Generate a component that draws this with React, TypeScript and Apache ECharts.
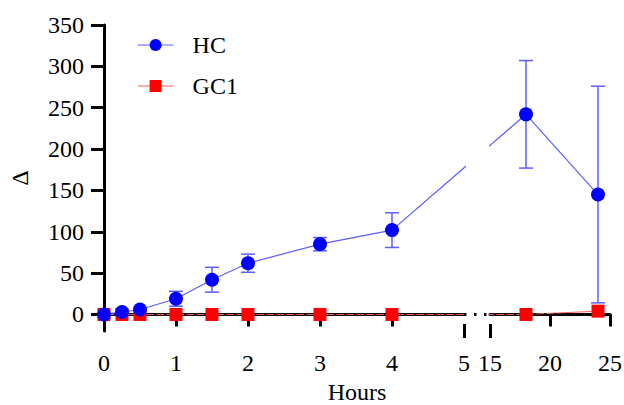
import React, { useEffect, useRef } from "react";
import * as echarts from "echarts";

// ---- data ----
const hours = [0, 0.25, 0.5, 1, 1.5, 2, 3, 4, 18, 24];
const hcMean = [0, 3, 6, 19, 42, 62, 85, 102, 242, 145];
const hcErr = [0, 0, 0, 9, 15, 11, 8, 21, 65, 131];
const gc1Mean = [0, 0, 0, 0, 0, 0, 0, 0, 0, 4];
const yTicks = [0, 50, 100, 150, 200, 250, 300, 350];
const seg1Ticks = [0, 1, 2, 3, 4, 5];
const seg2Ticks = [15, 20, 25];
const BREAK_LO = 5;
const BREAK_HI = 15;
const X_MAX = 25;
const Y_MIN = -20;
const Y_MAX = 350;
const Y_NAME = "Δ";
const X_NAME = "Hours";

// ---- layout ----
const W = 624;
const H = 405;
const LEFT = 104;
const SEG1_RIGHT = 464;
const SEG2_LEFT = 490;
const RIGHT = 610;
const TOP = 25;
const AXIS_Y = 331;
const PX1 = (SEG1_RIGHT - LEFT) / BREAK_LO;
const PX2 = (RIGHT - SEG2_LEFT) / (X_MAX - BREAK_HI);
const GAP = SEG2_LEFT - SEG1_RIGHT;

const FONT = "'Liberation Serif', 'Times New Roman', serif";
const HC_COLOR = "#0000ff";
const HC_LINE = "#5e5eff";
const GC_COLOR = "#ff0000";
const GC_LINE = "#ff5c5c";

const toSeg1 = (h: number) =>
  h >= BREAK_HI ? BREAK_LO + (GAP + (h - BREAK_HI) * PX2) / PX1 : h;
const toSeg2 = (h: number) =>
  h <= BREAK_LO ? BREAK_HI - (GAP + (BREAK_LO - h) * PX1) / PX2 : h;

const idx1 = hours.map((h, i) => i).filter((i) => hours[i] <= BREAK_LO);
const idx2 = hours.map((h, i) => i).filter((i) => hours[i] >= BREAK_HI);
const lastLo = idx1[idx1.length - 1];
const firstHi = idx2[0];

const errRender = (color: string) => (params: any, api: any) => {
  const x = api.value(0);
  const lo = api.value(1);
  const hi = api.value(2);
  const top = api.coord([x, hi]);
  const bot = api.coord([x, lo]);
  const hw = 7;
  const style = { stroke: color, lineWidth: 1.5 };
  return {
    type: "group",
    children: [
      { type: "line", shape: { x1: top[0], y1: top[1], x2: bot[0], y2: bot[1] }, style },
      { type: "line", shape: { x1: top[0] - hw, y1: top[1], x2: top[0] + hw, y2: top[1] }, style },
      { type: "line", shape: { x1: bot[0] - hw, y1: bot[1], x2: bot[0] + hw, y2: bot[1] }, style },
    ],
  };
};

function buildSegmentSeries(seg: number) {
  const idx = seg === 0 ? idx1 : idx2;
  const xAxisIndex = seg === 0 ? 0 : 2;
  const yAxisIndex = seg;
  const conv = seg === 0 ? toSeg1 : toSeg2;
  const errData = idx
    .filter((i) => hcErr[i] > 0)
    .map((i) => [hours[i], hcMean[i] - hcErr[i], hcMean[i] + hcErr[i]]);
  // line points including the point across the break (clipped by the grid)
  const withBridge = (vals: number[]) => {
    const pts = idx.map((i) => [hours[i], vals[i]]);
    if (seg === 0) pts.push([conv(hours[firstHi]), vals[firstHi]]);
    else pts.unshift([conv(hours[lastLo]), vals[lastLo]]);
    return pts;
  };
  return [
    {
      type: "custom",
      name: "HC err",
      xAxisIndex,
      yAxisIndex,
      z: 1,
      renderItem: errRender(HC_LINE),
      data: errData,
    },
    {
      type: "line",
      name: "GC1 line",
      xAxisIndex,
      yAxisIndex,
      z: 2,
      symbol: "none",
      clip: true,
      lineStyle: { color: GC_LINE, width: 1 },
      data: withBridge(gc1Mean),
    },
    {
      type: "line",
      name: "GC1",
      xAxisIndex,
      yAxisIndex,
      z: 4,
      symbol: "rect",
      symbolSize: 13,
      itemStyle: { color: GC_COLOR },
      lineStyle: { color: GC_LINE, width: 1, opacity: 0 },
      data: idx.map((i) => [hours[i], gc1Mean[i]]),
    },
    {
      type: "line",
      name: "HC line",
      xAxisIndex,
      yAxisIndex,
      z: 5,
      symbol: "none",
      clip: true,
      lineStyle: { color: HC_LINE, width: 1.2 },
      data: withBridge(hcMean),
    },
    {
      type: "line",
      name: "HC",
      xAxisIndex,
      yAxisIndex,
      z: 6,
      symbol: "circle",
      symbolSize: 14,
      itemStyle: { color: HC_COLOR },
      lineStyle: { color: HC_LINE, width: 1.2, opacity: 0 },
      data: idx.map((i) => [hours[i], hcMean[i]]),
    },
  ];
}

const axisLine = { show: true, lineStyle: { color: "#000", width: 3 } };
const labelStyle = { color: "#000", fontSize: 24, fontFamily: FONT };

export default function App() {
  const ref = useRef<HTMLDivElement>(null);
  useEffect(() => {
    document.body.style.margin = "0";
    if (!ref.current) return;
    const chart = echarts.init(ref.current, null, { renderer: "svg" });
    const gridBottom = H - AXIS_Y;
    const gridBase = { top: TOP, bottom: gridBottom, outerBoundsMode: "none", containLabel: false };
    const option: any = {
      animation: false,
      backgroundColor: "#ffffff",
      textStyle: { fontFamily: FONT },
      grid: [
        { ...gridBase, left: LEFT, right: W - SEG1_RIGHT },
        { ...gridBase, left: SEG2_LEFT, right: W - RIGHT },
        { ...gridBase, left: LEFT, right: W - RIGHT },
      ],
      graphic: [
        {
          type: "text",
          x: 20,
          y: (TOP + AXIS_Y) / 2,
          rotation: Math.PI / 2,
          style: {
            text: Y_NAME,
            fill: "#000",
            font: `24px ${FONT}`,
            align: "center",
            verticalAlign: "middle",
          },
        },
      ],
      legend: {
        data: [
          { name: "HC", lineStyle: { color: HC_LINE, width: 1.2, opacity: 1 } },
          { name: "GC1", lineStyle: { color: GC_LINE, width: 1.2, opacity: 1 } },
        ],
        orient: "vertical",
        left: 137,
        top: 32,
        padding: 0,
        itemGap: 15,
        itemWidth: 36,
        itemHeight: 15,
        textStyle: { ...labelStyle, lineHeight: 26, padding: [0, 0, 0, 14] },
      },
      xAxis: [
        {
          type: "value",
          gridIndex: 0,
          min: 0,
          max: BREAK_LO,
          interval: 1,
          axisLine,
          axisTick: {
            show: true,
            length: 12,
            lineStyle: { color: "#000", width: 3 },
            customValues: seg1Ticks.filter((v) => v !== BREAK_LO),
          },
          axisLabel: { ...labelStyle, margin: 20, customValues: seg1Ticks },
          splitLine: { show: false },
        },
        {
          type: "value",
          gridIndex: 0,
          position: "bottom",
          offset: -7,
          min: 0,
          max: BREAK_LO,
          axisLine: { show: false },
          axisTick: {
            show: true,
            length: 14,
            lineStyle: { color: "#000", width: 3 },
            customValues: [BREAK_LO],
          },
          axisLabel: { show: false },
          splitLine: { show: false },
        },
        {
          type: "value",
          gridIndex: 1,
          min: BREAK_HI,
          max: X_MAX,
          interval: 5,
          axisLine,
          axisTick: {
            show: true,
            length: 12,
            lineStyle: { color: "#000", width: 3 },
            customValues: seg2Ticks.filter((v) => v !== BREAK_HI),
          },
          axisLabel: { ...labelStyle, margin: 20, customValues: seg2Ticks },
          splitLine: { show: false },
        },
        {
          type: "value",
          gridIndex: 1,
          position: "bottom",
          offset: -7,
          min: BREAK_HI,
          max: X_MAX,
          axisLine: { show: false },
          axisTick: {
            show: true,
            length: 14,
            lineStyle: { color: "#000", width: 3 },
            customValues: [BREAK_HI],
          },
          axisLabel: { show: false },
          splitLine: { show: false },
        },
        {
          type: "value",
          gridIndex: 2,
          min: 0,
          max: 1,
          name: X_NAME,
          nameLocation: "middle",
          nameGap: 51,
          nameTextStyle: { ...labelStyle, lineHeight: 20 },
          axisLine: { show: false },
          axisTick: { show: false },
          axisLabel: { show: false },
          splitLine: { show: false },
        },
      ],
      yAxis: [
        {
          type: "value",
          gridIndex: 0,
          min: Y_MIN,
          max: Y_MAX,
          axisLine,
          axisTick: {
            show: true,
            length: 13,
            lineStyle: { color: "#000", width: 3 },
            customValues: yTicks,
          },
          axisLabel: { ...labelStyle, margin: 20, customValues: yTicks },
          splitLine: { show: false },
        },
        { type: "value", gridIndex: 1, min: Y_MIN, max: Y_MAX, show: false },
        { type: "value", gridIndex: 2, min: Y_MIN, max: Y_MAX, show: false },
      ],
      series: [
        {
          type: "line",
          name: "zero",
          xAxisIndex: 4,
          yAxisIndex: 2,
          z: 3,
          symbol: "none",
          lineStyle: { color: "#111", width: 3, type: [2.5, 7.5] },
          data: [
            [0, 0],
            [1, 0],
          ],
        },
        ...buildSegmentSeries(0),
        ...buildSegmentSeries(1),
      ],
    };
    chart.setOption(option);
    return () => chart.dispose();
  }, []);
  return <div ref={ref} style={{ width: W, height: H }} />;
}
